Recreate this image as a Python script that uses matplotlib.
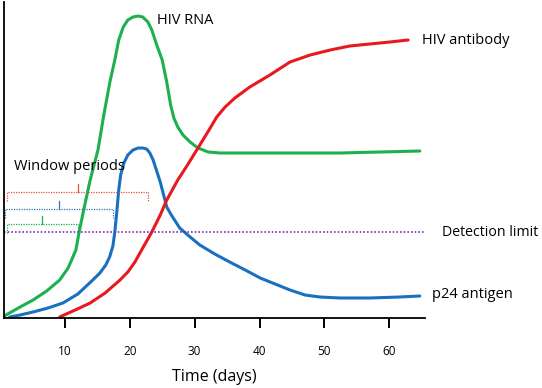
import matplotlib
matplotlib.use('Agg')
import matplotlib.pyplot as plt

plt.rcParams['font.family'] = ['Open Sans', 'DejaVu Sans']

# days / relative level (arbitrary units)
rna_days = [0.65, 3.1, 5.1, 7.2, 9.2, 10.5, 11.7, 12.2, 12.9, 13.9, 15.1, 16.0, 17.0, 17.7,
            18.3, 19.0, 19.7, 20.5, 21.3, 22.0, 22.8, 23.4, 24.0, 25.0, 25.7, 26.3, 26.8,
            27.4, 28.2, 29.3, 30.5, 32.1, 33.9, 40.1, 46.2, 52.4, 58.6, 64.7]
rna_level = [2, 11, 18, 27, 38, 50, 68, 86, 108, 138, 168, 203, 238, 258,
             278, 291, 298, 301, 302, 301, 296, 288, 276, 258, 236, 213, 200,
             191, 183, 176, 170, 166, 165, 165, 165, 165, 166, 167]

p24_days = [1.5, 3.1, 5.1, 7.4, 9.7, 12.0, 14.3, 15.4, 16.3, 16.9, 17.4, 17.7, 18.0, 18.3,
            18.6, 19.1, 19.7, 20.5, 21.3, 22.0, 22.6, 23.1, 23.6, 24.2, 24.7, 25.3, 25.7,
            26.5, 27.7, 29.3, 30.8, 33.1, 35.4, 37.8, 40.1, 42.4, 44.7, 47.0, 49.3, 52.4,
            57.0, 61.6, 64.7]
p24_level = [1, 3, 6, 10, 15, 24, 38, 45, 53, 61, 72, 86, 106, 128,
             143, 155, 163, 168, 170, 170, 169, 165, 158, 146, 136, 121, 111,
             102, 90, 81, 73, 64, 56, 48, 40, 34, 28, 23, 21, 20,
             20, 21, 22]

ab_days = [9.2, 11.6, 13.9, 16.2, 18.5, 19.7, 20.8, 22.0, 23.4, 24.7, 25.7, 27.4, 28.8,
           30.8, 32.4, 33.4, 34.7, 36.2, 38.5, 41.6, 44.7, 47.8, 50.9, 53.9, 57.0, 60.1, 62.9]
ab_level = [1, 8, 15, 25, 38, 46, 56, 70, 86, 103, 118, 138, 152,
            173, 190, 201, 211, 220, 231, 243, 256, 263, 268, 272, 274, 276, 278]

detection_limit = 86

# window period brackets: start day, end day, level, colour
win_start = [1.1, 0.8, 1.1]
win_end = [22.8, 17.4, 12.0]
win_level = [126, 109, 94]
win_colors = ['#e8504a', '#2e75b6', '#1db04f']

xticks = [10, 20, 30, 40, 50, 60]

fig = plt.figure(figsize=(5.42, 3.88), dpi=100)
ax = fig.add_axes([4 / 542, 70 / 388, 421 / 542, 316 / 388])
ax.set_xlim(0.62, 65.5)
ax.set_ylim(0, 316)

ax.plot(rna_days, rna_level, color='#1db04f', lw=2.2, solid_capstyle='round', solid_joinstyle='round')
ax.plot(p24_days, p24_level, color='#1a70c0', lw=2.2, solid_capstyle='round', solid_joinstyle='round')
ax.plot(ab_days, ab_level, color='#e8191e', lw=2.2, solid_capstyle='round', solid_joinstyle='round')
ax.axhline(detection_limit, color='#7a30b0', lw=1.2, ls=(0, (1, 1.2)))

for s, e, lv, c in zip(win_start, win_end, win_level, win_colors):
    ax.plot([s, s, e, e], [lv - 9, lv, lv, lv - 9], color=c, lw=0.9, ls=(0, (1, 1)))
    m = (s + e) / 2
    ax.plot([m, m], [lv, lv + 8], color=c, lw=0.9)

ax.text(2.1, 151, 'Window periods', fontsize=10.5, va='center', ha='left')
ax.text(24.2, 298, 'HIV RNA', fontsize=10.5, va='center', ha='left')
ax.text(65.1, 278, 'HIV antibody', fontsize=10.5, va='center', ha='left', clip_on=False)
ax.text(68.1, detection_limit, 'Detection limit', fontsize=10.2, va='center', ha='left', clip_on=False)
ax.text(66.6, 23, 'p24 antigen', fontsize=10.5, va='center', ha='left', clip_on=False)

for side in ['top', 'right']:
    ax.spines[side].set_visible(False)
for side in ['left', 'bottom']:
    ax.spines[side].set_linewidth(1.3)
ax.set_yticks([])
ax.set_xticks(xticks)
ax.tick_params(axis='x', direction='out', length=7.5, width=1.4, pad=12, labelsize=8.5)
ax.set_xlabel('Time (days)', fontsize=11.5, labelpad=8)

fig.savefig('out.png', dpi=100)
